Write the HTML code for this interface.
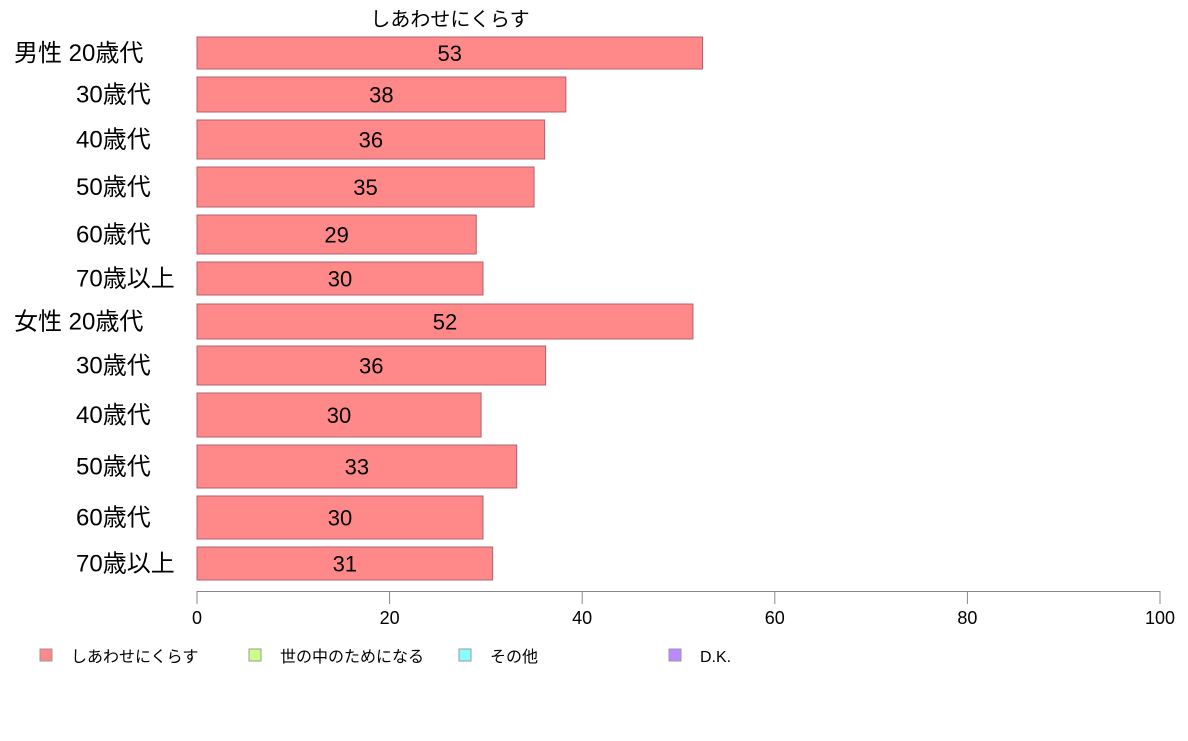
<!DOCTYPE html>
<html><head><meta charset="utf-8"><style>
body{margin:0;background:#fff;}
svg text{font-family:"Liberation Sans","Noto Sans CJK JP",sans-serif;}
</style></head><body>
<svg id="c" width="1188" height="736" xmlns="http://www.w3.org/2000/svg">
<text x="450" y="26" font-size="20" text-anchor="middle">しあわせにくらす</text>
<g id="bars"></g>
<g id="axis"></g>
<g id="legend"></g>
</svg>
<script>
const categories=["男性 20歳代","30歳代","40歳代","50歳代","60歳代","70歳以上","女性 20歳代","30歳代","40歳代","50歳代","60歳代","70歳以上"];
const values=[52.5,38.3,36.1,35.0,29.0,29.7,51.5,36.2,29.5,33.2,29.7,30.7];
const labels=["53","38","36","35","29","30","52","36","30","33","30","31"];
const ticks=[0,20,40,60,80,100];
const rowTop=[37,77,120,167,215,262,304,346,393,445,496,547];
const rowBot=[69,112,159,207,254,295,339,385,437,488,539,580];
const x0=197,x1=1160;
const xs=v=>x0+(x1-x0)*v/100;
const NS="http://www.w3.org/2000/svg";
function mk(t,a,p){const e=document.createElementNS(NS,t);for(const k in a)e.setAttribute(k,a[k]);p.appendChild(e);return e;}
const bars=document.getElementById('bars');
values.forEach((v,i)=>{
 const r=mk('rect',{x:xs(0),y:rowTop[i],width:xs(v)-xs(0),height:rowBot[i]-rowTop[i],fill:'#ff8888',stroke:'#b06070','stroke-width':1},bars);
 
 
 const cy=(rowTop[i]+rowBot[i])/2+8;
 const t=mk('text',{x:(xs(0)+xs(v))/2,y:cy,'font-size':22,'text-anchor':'middle'},bars);
 t.textContent=labels[i];
 
 
 const c=categories[i];
 const lx=c.startsWith('男')||c.startsWith('女')?14:76;
 const ct=mk('text',{x:lx,y:cy,'font-size':24},bars);
 ct.textContent=c;
 
 
});
const ax=document.getElementById('axis');
const l=mk('line',{x1:x0,x2:x1,y1:591.5,y2:591.5,stroke:'#888'},ax);


ticks.forEach(v=>{
 const tk=mk('line',{x1:xs(v),x2:xs(v),y1:591,y2:604,stroke:'#888'},ax);
 
 
 const t=mk('text',{x:xs(v),y:624,'font-size':18,'text-anchor':'middle'},ax);
 t.textContent=v;
 
 
});
const legNames=["しあわせにくらす","世の中のためになる","その他","D.K."];
const legColors=["#ff8888","#ccff88","#88ffff","#bb88ff"];
const legX=[40,249,459,669];
const lg=document.getElementById('legend');
legNames.forEach((n,i)=>{
 const r=mk('rect',{x:legX[i],y:649,width:12,height:12,fill:legColors[i],stroke:'#999'},lg);
 
 
 const t=mk('text',{x:legX[i]+31,y:662,'font-size':16},lg);
 t.textContent=n;
 
 
});
</script>
</body></html>
